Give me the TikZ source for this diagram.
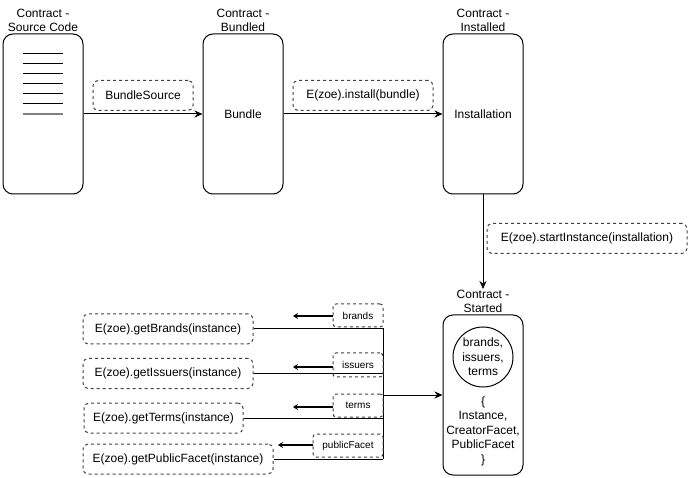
\documentclass[tikz,border=0pt]{standalone}
\usepackage{fontspec}
\setmainfont{Liberation Sans}
\usetikzlibrary{arrows.meta}

\tikzset{
  stage/.style={draw, rounded corners=10pt, minimum width=80pt, minimum height=160pt,
    align=center, font=\fontsize{12}{14}\selectfont},
  stagename/.style={align=center, inner sep=1pt, anchor=south, font=\fontsize{12}{14}\selectfont},
  call/.style={draw=black!75, dash pattern=on 3pt off 3pt, rounded corners=5pt,
    minimum height=30pt, font=\fontsize{12}{14}\selectfont},
  ret/.style={draw=black!75, dash pattern=on 3pt off 3pt, rounded corners=3pt,
    minimum height=23pt, font=\fontsize{10}{12}\selectfont},
  flow/.style={-{Stealth[length=8pt,width=7pt]}},
  back/.style={line width=1.6pt, -{Stealth[length=5pt,width=6pt]}},
}

\begin{document}
\begin{tikzpicture}[x=1pt, y=-1pt, line width=1pt]
    \useasboundingbox (0,0) rectangle (691,478);

    % stages of the contract
    \node(src)[stage] at (43,114) {};
    \node(bnd)[stage] at (243,114) {Bundle};
    \node(ins)[stage] at (483,114) {Installation};
    \node(run)[stage] at (483,395) {};
    \node(srcname)[stagename] at (src.north) {Contract -\\Source Code};
    \node(bndname)[stagename] at (bnd.north) {Contract -\\Bundled};
    \node(insname)[stagename] at (ins.north) {Contract -\\Installed};
    \node(runname)[stagename] at (run.north) {Contract -\\Started};

    % source code lines
    \foreach \y in {54,64,...,104}
        \draw (23,\y) -- (63,\y);
    \draw[black!50, line width=2pt] (23,114) -- (63,114);

    % inside the started contract
    \node(pool)[draw, shape=circle, minimum size=60pt, inner sep=0pt, align=center,
        font=\fontsize{12}{14.5}\selectfont] at (483,357) {brands,\\issuers,\\terms};
    \node(facets)[align=center, font=\fontsize{12}{14.5}\selectfont] at (483,431)
        {\{\\Instance,\\CreatorFacet,\\PublicFacet\\\}};

    % steps
    \node(bundleSource)[call, minimum width=100pt] at (143,95.5) {BundleSource};
    \node(install)[call, minimum width=140pt] at (363,95.5) {E(zoe).install(bundle)};
    \node(start)[call, minimum width=200pt] at (587,238.5) {E(zoe).startInstance(installation)};
    \draw[flow] (src.east |- 0,114) -- (bnd.west);
    \draw[flow] (bnd.east) -- (ins.west);
    \draw[flow] (ins.south) -- (runname.north);

    % queries on the instance
    \node(getBrands)[call, minimum width=170pt] at (168,329) {E(zoe).getBrands(instance)};
    \node(getIssuers)[call, minimum width=170pt] at (168,373.5) {E(zoe).getIssuers(instance)};
    \node(getTerms)[call, minimum width=159pt] at (163.5,418) {E(zoe).getTerms(instance)};
    \node(getPublic)[call, minimum width=190pt] at (178,459) {E(zoe).getPublicFacet(instance)};

    \coordinate(busTop) at (383,329);
    \coordinate(busBot) at (383,459);
    \coordinate(busMid) at (383,395);
    \draw (getBrands.east) -- (busTop) -- (busBot);
    \draw (getIssuers.east) -- (getIssuers.east -| busTop);
    \draw (getTerms.east) -- (getTerms.east -| busTop);
    \draw (getPublic.east) -- (busBot);
    \draw[flow] (busMid) -- (run.west);

    % returned values
    \node(brands)[ret, minimum width=50pt] at (358,315.5) {brands};
    \node(issuers)[ret, minimum width=50pt, minimum height=24pt] at (358,365) {issuers};
    \node(terms)[ret, minimum width=50pt] at (358,405.5) {terms};
    \node(publicFacet)[ret, minimum width=70pt] at (348,445.5) {publicFacet};
    \coordinate(brandsTip) at (293,316);
    \coordinate(issuersTip) at (293,367);
    \coordinate(termsTip) at (293,407);
    \coordinate(publicTip) at (278,445);
    \draw[back] (brands.west |- brandsTip) -- (brandsTip);
    \draw[back] (issuers.west |- issuersTip) -- (issuersTip);
    \draw[back] (terms.west |- termsTip) -- (termsTip);
    \draw[back] (publicFacet.west |- publicTip) -- (publicTip);
\end{tikzpicture}
\end{document}
